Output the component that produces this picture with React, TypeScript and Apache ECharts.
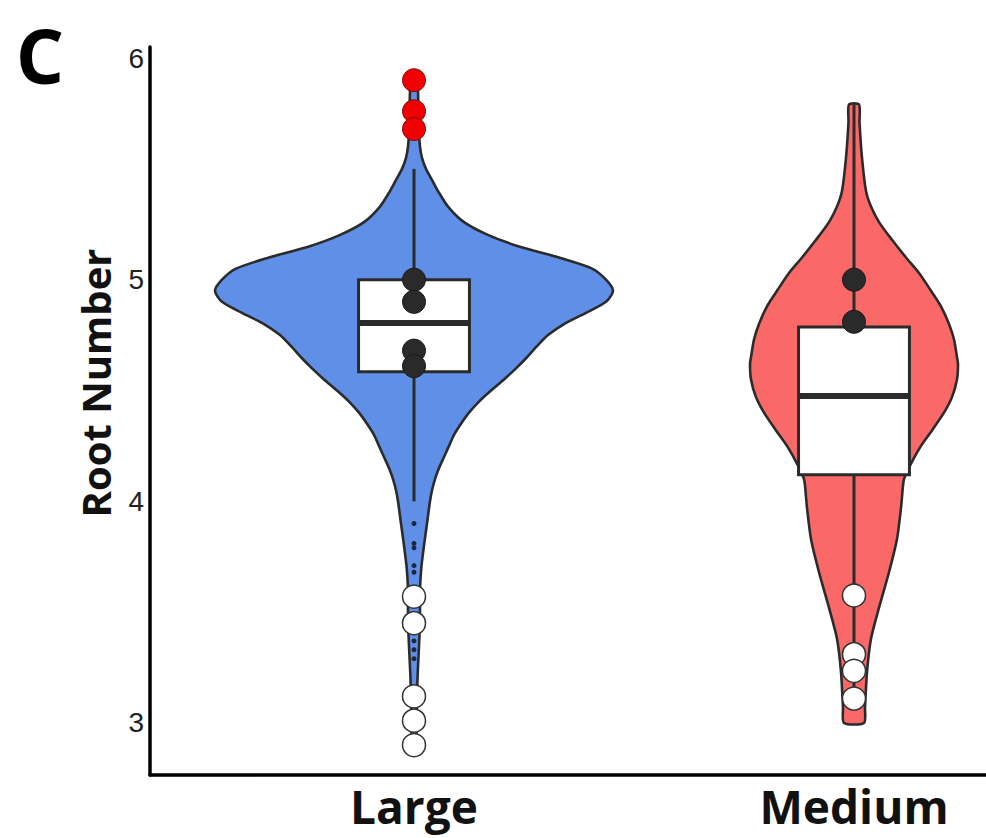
import { useEffect, useRef } from "react";
import * as echarts from "echarts";

// ---------- data ----------
const categories = ["Large", "Medium"];
const categoryX = [1, 2];
const yTicks = [3, 4, 5, 6];

// violin profiles: value (y) and relative density (half width)
const largeViolinY = [5.91, 5.85, 5.75, 5.66, 5.6, 5.55, 5.5, 5.45, 5.4, 5.33, 5.26, 5.2, 5.15, 5.1, 5.05, 5.0, 4.95, 4.9, 4.85, 4.8, 4.75, 4.7, 4.65, 4.6, 4.55, 4.5, 4.45, 4.4, 4.35, 4.3, 4.25, 4.2, 4.15, 4.1, 4.05, 4.0, 3.9, 3.8, 3.7, 3.6, 3.5, 3.4, 3.3, 3.2, 3.1, 3.0, 2.9];
const largeViolinDensity = [3, 4, 4.5, 5, 6, 8, 12, 18, 24, 34, 50, 75, 105, 145, 178, 192, 199, 192, 172, 150, 134, 123, 113, 102, 90, 77, 65, 55, 47, 40, 35, 30, 25, 21, 18, 16, 13, 10, 7.3, 6, 6, 5.5, 4.5, 3.5, 3, 2.5, 2];

const mediumViolinY = [5.79, 5.71, 5.55, 5.4, 5.33, 5.26, 5.18, 5.1, 5.03, 4.95, 4.88, 4.8, 4.73, 4.65, 4.62, 4.55, 4.47, 4.4, 4.32, 4.25, 4.17, 4.1, 4.02, 3.97, 3.83, 3.68, 3.52, 3.38, 3.23, 3.07, 3.0];
const mediumViolinDensity = [5, 5.5, 8, 12, 17, 25, 38, 52, 65, 77, 87, 95, 100, 103, 104, 103, 98, 90, 78, 67, 57, 50, 48, 47, 43, 35, 25, 17, 13, 11, 10];

// box stats: lower whisker, Q1, median, Q3, upper whisker
const largeBox = [4.0, 4.585, 4.805, 5.0, 5.5];
const mediumBox = [3.1, 4.12, 4.475, 4.787, 5.79];

// points
const largeSmallOutliers = [3.9, 3.81, 3.79, 3.71, 3.68, 3.37, 3.33, 3.29];
const largeRedPoints = [5.9, 5.76, 5.68];
const largeBlackPoints = [5.0, 4.9, 4.68, 4.61];
const largeWhitePoints = [3.57, 3.45, 3.12, 3.01, 2.9];
const mediumBlackPoints = [5.0, 4.81];
const mediumWhitePoints = [3.575, 3.31, 3.235, 3.11];

// ---------- styles ----------
const WIDTH_SCALE = 1 / 440; // density unit -> x axis units
const BOX_HALF = 0.126;
const OUTLINE = "#2b2b2b";

function violinSeries(ys: number[], dens: number[], cx: number, fill: string) {
  return {
    type: "custom",
    z: 1,
    data: [[cx, ys[0]]],
    encode: { x: 0, y: 1 },
    renderItem: (_p: any, api: any) => {
      const right = ys.map((v, i) => api.coord([cx + dens[i] * WIDTH_SCALE, v]));
      const left = ys.map((v, i) => api.coord([cx - dens[i] * WIDTH_SCALE, v])).reverse();
      return {
        type: "polygon",
        shape: { points: right.concat(left), smooth: 0.25 },
        style: { fill, stroke: OUTLINE, lineWidth: 2.6 },
      };
    },
  };
}

function pts(x: number, vals: number[]) {
  return vals.map((v) => [x, v]);
}

export default function App() {
  const ref = useRef<HTMLDivElement>(null);
  useEffect(() => {
    if (!ref.current) return;
    const chart = echarts.init(ref.current, undefined, { renderer: "svg" });
    const boxData = [
      [categoryX[0], ...largeBox],
      [categoryX[1], ...mediumBox],
    ];
    const option: any = {
      animation: false,
      backgroundColor: "#ffffff",
      grid: { left: 150, right: 0, top: 47, bottom: 63 },
      xAxis: {
        type: "value",
        min: 0.4,
        max: 2.3,
        splitLine: { show: false },
        axisTick: { show: false },
        axisLine: { show: true, onZero: false, lineStyle: { color: "#000", width: 3.5 } },
        axisLabel: {
          customValues: categoryX,
          formatter: (v: number) => {
            const i = categoryX.indexOf(v);
            return i >= 0 ? categories[i] : "";
          },
          fontFamily: "Open Sans",
          fontWeight: "bold",
          fontSize: 46,
          color: "#111",
          margin: 8,
        },
      },
      yAxis: {
        type: "value",
        min: 2.765,
        max: 6.05,
        splitLine: { show: false },
        axisTick: { show: false },
        axisLine: { show: true, onZero: false, lineStyle: { color: "#000", width: 3.5 } },
        axisLabel: {
          customValues: yTicks,
          fontFamily: "Liberation Sans",
          fontSize: 28,
          color: "#222",
          margin: 6,
        },
      },
      graphic: [
        {
          type: "text",
          x: 40,
          y: 54,
          style: {
            text: "C",
            fontFamily: "Open Sans",
            fontWeight: "bold",
            fontSize: 76,
            fill: "#000",
            align: "center",
            verticalAlign: "middle",
          },
        },
        {
          type: "text",
          x: 95,
          y: 383,
          rotation: Math.PI / 2,
          style: {
            text: "Root Number",
            fontFamily: "Open Sans",
            fontWeight: "bold",
            fontSize: 40,
            fill: "#111",
            align: "center",
            verticalAlign: "middle",
          },
        },
      ],
      series: [
        violinSeries(largeViolinY, largeViolinDensity, categoryX[0], "#5f8fe6"),
        violinSeries(mediumViolinY, mediumViolinDensity, categoryX[1], "#fa6868"),
        {
          type: "custom",
          z: 2,
          data: boxData,
          encode: { x: 0, y: [1, 2, 3, 4, 5] },
          renderItem: (_p: any, api: any) => {
            const x = api.value(0);
            const lo = api.coord([x, api.value(1)]);
            const q1 = api.coord([x, api.value(2)]);
            const md = api.coord([x, api.value(3)]);
            const q3 = api.coord([x, api.value(4)]);
            const hi = api.coord([x, api.value(5)]);
            const tl = api.coord([x - BOX_HALF, api.value(4)]);
            const br = api.coord([x + BOX_HALF, api.value(2)]);
            const ml = api.coord([x - BOX_HALF, api.value(3)]);
            const mr = api.coord([x + BOX_HALF, api.value(3)]);
            const ls = { stroke: OUTLINE, lineWidth: 3 };
            return {
              type: "group",
              children: [
                { type: "line", shape: { x1: lo[0], y1: lo[1], x2: q1[0], y2: q1[1] }, style: ls },
                { type: "line", shape: { x1: q3[0], y1: q3[1], x2: hi[0], y2: hi[1] }, style: ls },
                {
                  type: "rect",
                  shape: { x: tl[0], y: tl[1], width: br[0] - tl[0], height: br[1] - tl[1] },
                  style: { fill: "#ffffff", stroke: OUTLINE, lineWidth: 3 },
                },
                { type: "line", shape: { x1: ml[0], y1: md[1], x2: mr[0], y2: md[1] }, style: { stroke: OUTLINE, lineWidth: 6 } },
              ],
            };
          },
        },
        {
          type: "scatter",
          z: 3,
          symbolSize: 5,
          data: pts(categoryX[0], largeSmallOutliers),
          itemStyle: { color: "#1c2640", opacity: 1 },
        },
        {
          type: "scatter",
          z: 4,
          symbolSize: 23,
          data: pts(categoryX[0], largeRedPoints),
          itemStyle: { color: "#f00000", borderColor: "#7a1010", borderWidth: 1, opacity: 1 },
        },
        {
          type: "scatter",
          z: 4,
          symbolSize: 23,
          data: pts(categoryX[0], largeBlackPoints).concat(pts(categoryX[1], mediumBlackPoints)),
          itemStyle: { color: "#2a2a2a", borderColor: "#1a1a1a", borderWidth: 1, opacity: 1 },
        },
        {
          type: "scatter",
          z: 4,
          symbolSize: 23,
          data: pts(categoryX[0], largeWhitePoints).concat(pts(categoryX[1], mediumWhitePoints)),
          itemStyle: { color: "#ffffff", borderColor: "#333", borderWidth: 1.5, opacity: 1 },
        },
      ],
    };
    chart.setOption(option);
    return () => chart.dispose();
  }, []);
  return (
    <div
      ref={ref}
      style={{ position: "absolute", left: 0, top: 0, width: 986, height: 838, background: "#fff" }}
    />
  );
}
